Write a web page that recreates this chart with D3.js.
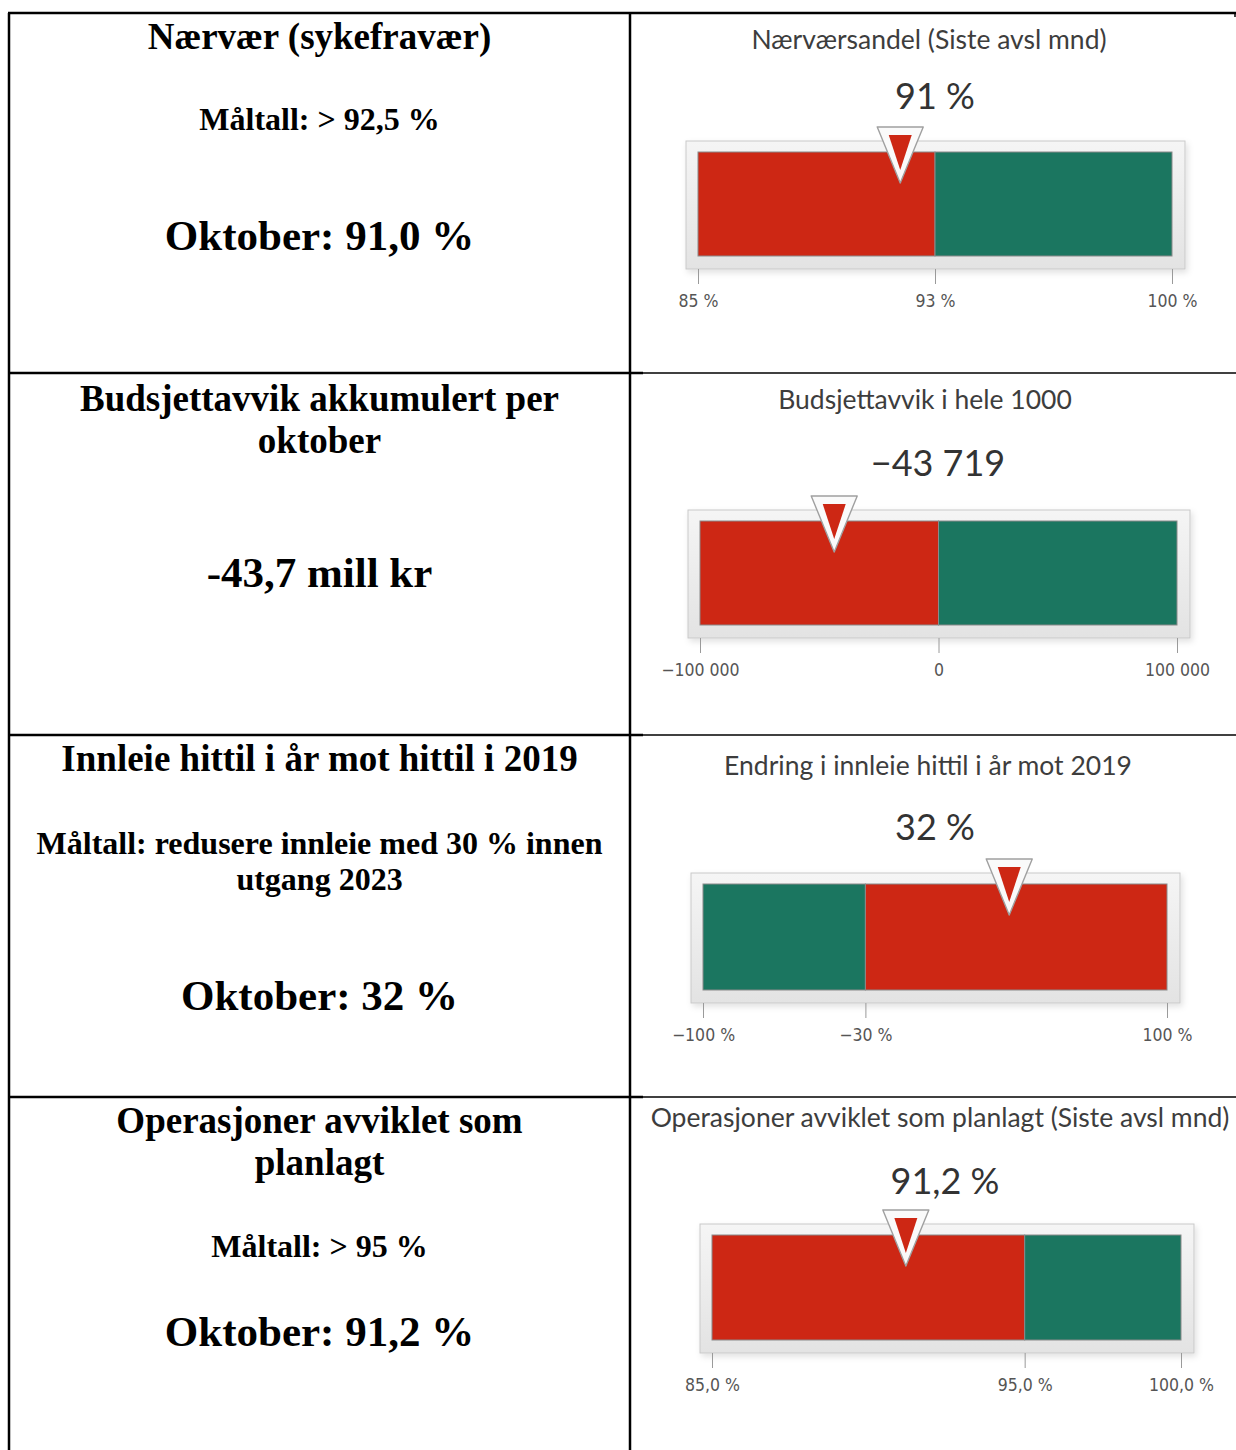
<!DOCTYPE html>
<html>
<head>
<meta charset="utf-8">
<script src="https://cdn.jsdelivr.net/npm/d3@7"></script>
<style>
  body { margin: 0; background: #fff; }
</style>
</head>
<body>
<svg></svg>
<script>
// left column texts
const leftHeads = [
  ["Nærvær (sykefravær)"],
  ["Budsjettavvik akkumulert per", "oktober"],
  ["Innleie hittil i år mot hittil i 2019"],
  ["Operasjoner avviklet som", "planlagt"]
];
const leftTargets = [
  ["Måltall: > 92,5 %"],
  [],
  ["Måltall: redusere innleie med 30 % innen", "utgang 2023"],
  ["Måltall: > 95 %"]
];
const leftResults = ["Oktober: 91,0 %", "-43,7 mill kr", "Oktober: 32 %", "Oktober: 91,2 %"];

// gauges
const gaugeTitles = [
  "Nærværsandel (Siste avsl mnd)",
  "Budsjettavvik i hele 1000",
  "Endring i innleie hittil i år mot 2019",
  "Operasjoner avviklet som planlagt (Siste avsl mnd)"
];
const gaugeValues = [91.4, -43719, 32, 91.2];
const gaugeBands = [[85, 92.5, 100], [-100000, 0, 100000], [-100, -30, 100], [85, 95, 100]];
const bandColors = [["red", "green"], ["red", "green"], ["green", "red"], ["red", "green"]];
const gaugeFormats = [".0f", ",.0f", ".0f", ".1f"];
const gaugeSuffix = [" %", "", " %", " %"];

const W = 1236, H = 1450;
const colors = { red: "#cd2714", green: "#1b7660" };

const nb = d3.formatLocale({ decimal: ",", thousands: "\u00a0", grouping: [3], currency: ["", " kr"], minus: "\u2212" });

const svg = d3.select("svg")
    .attr("width", W)
    .attr("height", H);

const defs = svg.append("defs");
const grad = defs.append("linearGradient")
    .attr("id", "frameGrad")
    .attr("x1", 0).attr("y1", 0).attr("x2", 0).attr("y2", 1);
grad.append("stop").attr("offset", "0%").attr("stop-color", "#f5f5f5");
grad.append("stop").attr("offset", "100%").attr("stop-color", "#e3e3e3");
const shadow = defs.append("filter").attr("id", "shadow")
    .attr("x", "-5%").attr("y", "-10%").attr("width", "110%").attr("height", "130%");
shadow.append("feDropShadow")
    .attr("dx", 2).attr("dy", 3).attr("stdDeviation", 3)
    .attr("flood-color", "#000").attr("flood-opacity", 0.12);

// table layout
const rowTops = [13, 373, 735, 1097];
const colX = 630, leftX = 9;

// left text layout (vertical centres)
const headY = [37, 399, 759, 1121];
const targetY = [119, null, 843, 1246];
const resultY = [236, 573, 996, 1332];

const serif = "'Liberation Serif', 'Times New Roman', serif";
const leftCx = (leftX + colX) / 2;

function centred(sel, lines, y0, step, size) {
  lines.forEach((t, i) => {
    sel.append("text")
        .attr("x", leftCx)
        .attr("y", y0 + i * step + size * 0.33)
        .attr("text-anchor", "middle")
        .attr("font-family", serif)
        .attr("font-weight", "bold")
        .attr("font-size", size)
        .attr("fill", "#000")
        .text(t);
  });
}

const left = svg.append("g");
leftHeads.forEach((lines, i) => {
  centred(left, lines, headY[i], 42, 37);
  if (targetY[i] != null) centred(left, leftTargets[i], targetY[i], 36, 32);
  centred(left, [leftResults[i]], resultY[i], 0, 43);
});

// gauge layout (inner bar box, title + value positions)
const gaugeBox = [
  { x0: 698, x1: 1172, y0: 152, y1: 256, tx: 929, ty: 40, vx: 935, vy: 97 },
  { x0: 700, x1: 1177, y0: 521, y1: 625, tx: 925, ty: 400, vx: 938, vy: 464 },
  { x0: 703, x1: 1167, y0: 884, y1: 990, tx: 928, ty: 766, vx: 935, vy: 828 },
  { x0: 712, x1: 1181, y0: 1235, y1: 1340, tx: 940, ty: 1118, vx: 945, vy: 1182 }
];

const sans = "Lato, 'Open Sans', sans-serif";
const narrow = "'Liberation Sans Narrow', 'DejaVu Sans Condensed', sans-serif";

gaugeBox.forEach((b, i) => {
  const band = gaugeBands[i];
  const fmt = nb.format(gaugeFormats[i]);
  const x = d3.scaleLinear()
      .domain([band[0], band[band.length - 1]])
      .range([b.x0, b.x1]);

  const g = svg.append("g");

  g.append("text")
      .attr("x", b.tx)
      .attr("y", b.ty + 9)
      .attr("text-anchor", "middle")
      .attr("font-family", sans)
      .attr("font-size", 26.5)
      .attr("fill", "#3d3d3d")
      .text(gaugeTitles[i]);

  g.append("text")
      .attr("x", b.vx)
      .attr("y", b.vy + 12)
      .attr("text-anchor", "middle")
      .attr("font-family", sans)
      .attr("font-size", 36)
      .attr("fill", "#333")
      .text(fmt(gaugeValues[i]) + gaugeSuffix[i]);

  // frame
  const fy1 = b.y1 + 13;
  g.append("rect")
      .attr("x", b.x0 - 12)
      .attr("y", b.y0 - 11)
      .attr("width", b.x1 - b.x0 + 25)
      .attr("height", b.y1 - b.y0 + 24)
      .attr("fill", "url(#frameGrad)")
      .attr("stroke", "#c9c9c9")
      .attr("filter", "url(#shadow)");

  // axis
  const axis = d3.axisBottom(x)
      .tickValues(band)
      .tickFormat(d => fmt(d) + gaugeSuffix[i])
      .tickSize(15)
      .tickPadding(11);
  const ax = g.append("g")
      .attr("transform", `translate(0,${fy1})`)
      .call(axis);
  ax.select(".domain").remove();
  ax.selectAll(".tick line").attr("stroke", "#9a9a9a");
  ax.selectAll(".tick text")
      .attr("font-family", narrow)
      .attr("font-size", 17.5)
      .attr("fill", "#555");

  // bands
  const segs = d3.pairs(band);
  g.selectAll(".seg")
    .data(segs)
    .join("rect")
      .attr("x", d => x(d[0]))
      .attr("y", b.y0)
      .attr("width", d => x(d[1]) - x(d[0]))
      .attr("height", b.y1 - b.y0)
      .attr("fill", (d, j) => colors[bandColors[i][j]])
      .attr("stroke", "#8a8a8a")
      .attr("stroke-width", 1);

  // marker
  const v = gaugeValues[i];
  const mx = x(v);
  const segIdx = segs.findIndex(d => v >= d[0] && v <= d[1]);
  const mcol = colors[bandColors[i][Math.max(segIdx, 0)]];
  const top = b.y0 - 25;
  g.append("path")
      .attr("d", `M${mx - 23},${top} L${mx + 23},${top} L${mx},${b.y0 + 31} Z`)
      .attr("fill", "#fafafa")
      .attr("stroke", "#a0a0a0")
      .attr("stroke-width", 1.4)
      .attr("stroke-linejoin", "round");
  g.append("path")
      .attr("d", `M${mx - 11.5},${b.y0 - 17} L${mx + 11.5},${b.y0 - 17} L${mx},${b.y0 + 18} Z`)
      .attr("fill", mcol);
});

// table lines
const lines = svg.append("g").attr("stroke", "#000").attr("fill", "none");
lines.append("line").attr("x1", leftX - 1).attr("x2", W).attr("y1", rowTops[0]).attr("y2", rowTops[0]).attr("stroke-width", 2.5);
lines.append("line").attr("x1", W - 1).attr("x2", W - 1).attr("y1", rowTops[0]).attr("y2", rowTops[0] + 4).attr("stroke-width", 1.5);
lines.append("line").attr("x1", leftX).attr("x2", leftX).attr("y1", rowTops[0]).attr("y2", H).attr("stroke-width", 2.5);
lines.append("line").attr("x1", colX).attr("x2", colX).attr("y1", rowTops[0]).attr("y2", H).attr("stroke-width", 2.5);
rowTops.slice(1).forEach(y => {
  lines.append("line").attr("x1", leftX).attr("x2", 643).attr("y1", y).attr("y2", y).attr("stroke-width", 2.5);
  lines.append("line").attr("x1", 643).attr("x2", W).attr("y1", y).attr("y2", y).attr("stroke-width", 1.5);
});
</script>
</body>
</html>
